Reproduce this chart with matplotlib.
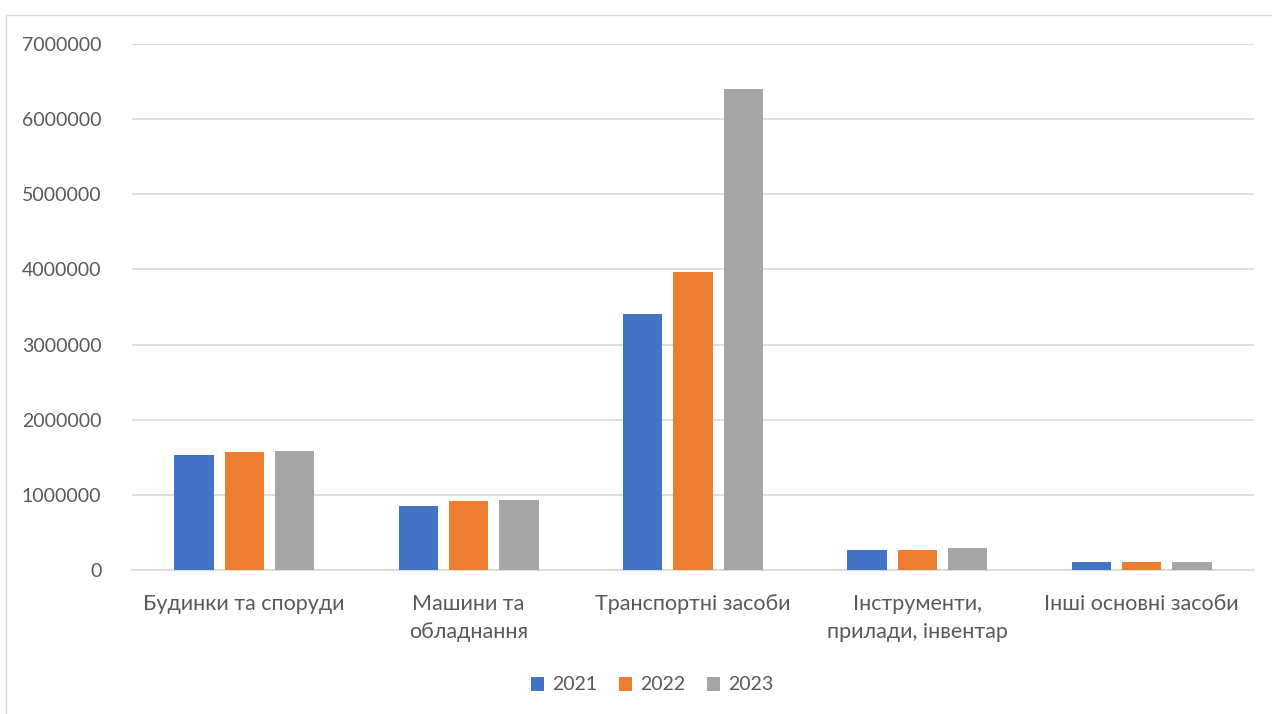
import numpy as np
import matplotlib
matplotlib.use('Agg')
import matplotlib.pyplot as plt
from matplotlib.patches import Rectangle

plt.rcParams['font.family'] = ['Lato', 'DejaVu Sans']

# Data
categories = ["Будинки та споруди", "Машини та\nобладнання", "Транспортні засоби",
              "Інструменти,\nприлади, інвентар", "Інші основні засоби"]
years = ["2021", "2022", "2023"]
values_2021 = [1528000, 853000, 3409000, 262000, 102000]
values_2022 = [1569000, 920000, 3969000, 262000, 102000]
values_2023 = [1587000, 938000, 6400000, 289000, 102000]
colors = ["#4472C4", "#ED7D31", "#A5A5A5"]

fig = plt.figure(figsize=(12.72, 7.14), dpi=100)
# chart border like Excel
fig.patches.append(Rectangle((6 / 1272, -0.01), 1.2, (714 - 15) / 714 + 0.01,
                             transform=fig.transFigure, fill=False,
                             edgecolor="#D9D9D9", linewidth=1))

ax = fig.add_axes([132 / 1272, (714 - 570) / 714, (1254 - 132) / 1272, (570 - 44) / 714])

x = np.arange(len(categories))
width = 0.175
offsets = [-0.224, 0, 0.224]
series = [values_2021, values_2022, values_2023]
for vals, off, col, yr in zip(series, offsets, colors, years):
    ax.bar(x + off, vals, width, color=col, label=yr, zorder=3)

ax.set_xlim(-0.5, len(categories) - 0.5)
ax.set_ylim(0, 7000000)
ax.set_yticks(np.arange(0, 7000001, 1000000))
ax.set_yticklabels([str(v) for v in range(0, 7000001, 1000000)])
ax.yaxis.grid(True, color="#D9D9D9", linewidth=1.2, zorder=0)
ax.set_axisbelow(True)

for s in ["top", "right", "left"]:
    ax.spines[s].set_visible(False)
ax.spines["bottom"].set_color("#D9D9D9")
ax.spines["bottom"].set_linewidth(1.2)

ax.set_xticks(x)
ax.set_xticklabels(categories, linespacing=1.5, va="top")
ax.tick_params(axis="both", length=0, labelcolor="#595959")
ax.tick_params(axis="x", pad=17, labelsize=15.5)
ax.tick_params(axis="y", pad=22, labelsize=14)

leg = fig.legend(loc="center", bbox_to_anchor=(652 / 1272, 1 - 685 / 714), ncol=3,
                 frameon=False, fontsize=14, handlelength=0.7, handleheight=0.7,
                 handletextpad=0.4, columnspacing=1.1)
for t in leg.get_texts():
    t.set_color("#595959")

fig.savefig("out.png", dpi=100)
